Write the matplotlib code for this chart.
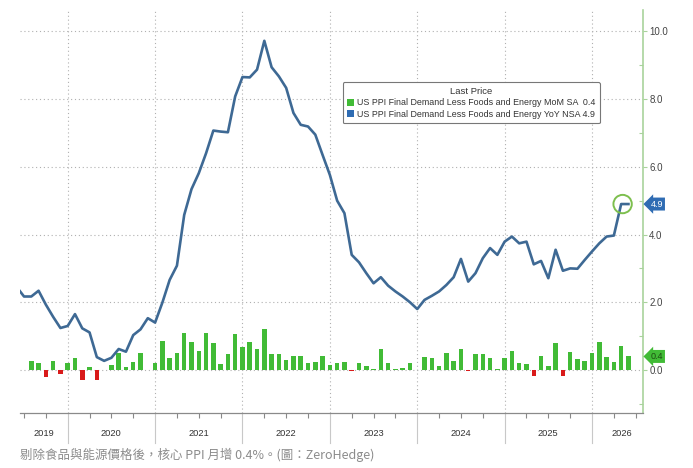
import matplotlib
matplotlib.use("Agg")
import matplotlib.pyplot as plt
import matplotlib.transforms as mtransforms
from matplotlib.patches import Patch
import numpy as np

# ---------------- data ----------------
# x index = month-end position, 0 = end of Dec 2019
yoy_start = -7  # May 2019
yoy_values = [
    2.45, 2.17, 2.17, 2.34, 1.93, 1.57, 1.24, 1.30,                      # May-Dec 2019
    1.65, 1.23, 1.11, 0.38, 0.27, 0.36, 0.62, 0.54, 1.03, 1.20, 1.53, 1.40,  # 2020
    1.99, 2.66, 3.08, 4.58, 5.34, 5.81, 6.40, 7.07, 7.04, 7.02, 8.08, 8.65,  # 2021
    8.64, 8.87, 9.72, 8.94, 8.67, 8.33, 7.59, 7.24, 7.19, 6.95, 6.35, 5.76,  # 2022
    5.00, 4.63, 3.40, 3.18, 2.86, 2.56, 2.74, 2.49, 2.32, 2.17, 2.00, 1.80,  # 2023
    2.07, 2.19, 2.32, 2.51, 2.74, 3.28, 2.61, 2.86, 3.30, 3.60, 3.40, 3.79,  # 2024
    3.94, 3.74, 3.79, 3.12, 3.22, 2.71, 3.55, 2.93, 3.00, 2.99, 3.25, 3.50,  # 2025
    3.74, 3.94, 3.97, 4.90, 4.90,                                          # Jan-May 2026
]
mom_start = -5  # Jul 2019
mom_values = [
    0.27, 0.20, -0.20, 0.27, -0.12, 0.20,                                    # Jul-Dec 2019
    0.36, -0.30, 0.10, -0.30, 0.00, 0.15, 0.50, 0.08, 0.25, 0.50, 0.00, 0.20,  # 2020
    0.86, 0.34, 0.51, 1.08, 0.83, 0.57, 1.10, 0.81, 0.18, 0.46, 1.06, 0.69,  # 2021
    0.82, 0.61, 1.22, 0.46, 0.46, 0.30, 0.42, 0.42, 0.20, 0.23, 0.42, 0.15,  # 2022
    0.20, 0.25, -0.03, 0.22, 0.11, 0.02, 0.62, 0.20, 0.02, 0.06, 0.22, 0.00,  # 2023
    0.39, 0.34, 0.11, 0.49, 0.27, 0.61, -0.03, 0.46, 0.46, 0.34, 0.02, 0.34,  # 2024
    0.57, 0.20, 0.18, -0.18, 0.40, 0.12, 0.81, -0.17, 0.54, 0.32, 0.26, 0.51,  # 2025
    0.82, 0.38, 0.25, 0.71, 0.40,                                            # Jan-May 2026
]
years = [2019, 2020, 2021, 2022, 2023, 2024, 2025, 2026]
yticks = [0, 2, 4, 6, 8, 10]
mom_label = "US PPI Final Demand Less Foods and Energy MoM SA"
yoy_label = "US PPI Final Demand Less Foods and Energy YoY NSA"
legend_title = "Last Price"
caption = "剔除食品與能源價格後，核心 PPI 月增 0.4%。(圖：ZeroHedge)"

# ---------------- style ----------------
LINE_C = "#3e6994"
GREEN = "#41bb36"
RED = "#d91a1a"
BLUE_TAG = "#2f6cb3"
AXIS_GREEN = "#a9d39c"
plt.rcParams["font.family"] = ["Liberation Sans", "DejaVu Sans"]

fig = plt.figure(figsize=(6.93, 4.68), dpi=100)
ax = fig.add_axes([20 / 693, 1 - 413 / 468, 623 / 693, 403 / 468])

yoy_x = np.arange(yoy_start, yoy_start + len(yoy_values))
mom_x = np.arange(mom_start, mom_start + len(mom_values))
mom_arr = np.array(mom_values)
bar_colors = [GREEN if v >= 0 else RED for v in mom_arr]

ax.bar(mom_x, mom_arr, width=0.62, color=bar_colors, zorder=2)
ax.plot(yoy_x, yoy_values, color=LINE_C, lw=1.9, zorder=3, solid_joinstyle="round")
ax.scatter([yoy_x[-1] - 0.8], [yoy_values[-1]], s=175, facecolors="none",
           edgecolors="#7dbf4e", linewidths=1.4, zorder=4)

xmin, xmax = -6.55, 79.0
ax.set_xlim(xmin, xmax)
ax.set_ylim(-1.27, 10.63)

# y axis on the right
ax.yaxis.tick_right()
ax.set_yticks(yticks)
ax.set_yticklabels([f"{v:.1f}" for v in yticks])
ax.set_yticks([-1, 1, 3, 5, 7, 9], minor=True)
ax.tick_params(axis="y", which="major", direction="out", length=3, width=0.8,
               color=AXIS_GREEN, labelsize=7, labelcolor="#444444", pad=1.5)
ax.tick_params(axis="y", which="minor", direction="in", length=3, width=0.8,
               color=AXIS_GREEN)

# x axis: year boundaries as grid, quarterly minor ticks
boundaries = [12 * (y - 2020) for y in years[1:]]
ax.set_xticks(boundaries)
ax.set_xticklabels([])
quarter_ticks = [q for q in range(-6, int(xmax) + 1, 3) if q % 12 != 0]
ax.set_xticks(quarter_ticks, minor=True)
ax.tick_params(axis="x", which="major", length=0)
ax.tick_params(axis="x", which="minor", direction="out", length=3.5, width=0.8,
               color="#888888")

ax.grid(True, which="major", linestyle=(0, (1, 2.5)), color="#b0b0b0", lw=0.8, zorder=0)

for s in ["left", "top"]:
    ax.spines[s].set_visible(False)
ax.spines["right"].set_color(AXIS_GREEN)
ax.spines["right"].set_linewidth(1.2)
ax.spines["bottom"].set_color("#8a8a8a")
ax.spines["bottom"].set_linewidth(0.9)

# year separators and year labels below the axis
trans = mtransforms.blended_transform_factory(ax.transData, ax.transAxes)
for b in boundaries:
    ax.plot([b, b], [0, -0.075], transform=trans, color="#c8c8c8", lw=0.8, clip_on=False)
edges = [xmin] + boundaries + [xmax + 1.2]
for i, y in enumerate(years):
    ax.text((edges[i] + edges[i + 1]) / 2, -0.05, str(y), transform=trans,
            ha="center", va="center", fontsize=6.7, color="#333333")

# last-value tags on right axis
ttrans = mtransforms.blended_transform_factory(ax.transAxes, ax.transData)
ax.text(1.012, yoy_values[-1], f"{yoy_values[-1]:.1f}", transform=ttrans, ha="left",
        va="center", fontsize=6.5, color="white",
        bbox=dict(boxstyle="larrow,pad=0.22", fc=BLUE_TAG, ec="none"))
ax.text(1.012, mom_values[-1], f"{mom_values[-1]:.1f}", transform=ttrans, ha="left",
        va="center", fontsize=6.5, color="#1d4d12",
        bbox=dict(boxstyle="larrow,pad=0.22", fc=GREEN, ec="none"))

# legend
handles = [Patch(facecolor=GREEN, edgecolor="none"), Patch(facecolor=BLUE_TAG, edgecolor="none")]
labels = [f"{mom_label}  {mom_values[-1]:.1f}", f"{yoy_label} {yoy_values[-1]:.1f}"]
leg = ax.legend(handles, labels, title=legend_title, loc="upper left",
                bbox_to_anchor=(0.518, 0.821), fontsize=6.4, title_fontsize=6.8,
                frameon=True, fancybox=True, edgecolor="#777777", framealpha=1,
                handlelength=0.8, handleheight=0.8, handletextpad=0.3,
                labelspacing=0.3, borderpad=0.5, borderaxespad=0)
leg.get_frame().set_linewidth(0.8)
for t in leg.get_texts():
    t.set_color("#333333")
leg.get_title().set_color("#333333")

fig.text(20 / 693, 1 - 455 / 468, caption, fontsize=9, color="#8c8c8c",
         family=["Noto Sans CJK TC", "DejaVu Sans"], va="center", ha="left")

fig.savefig("out.png", dpi=100)
